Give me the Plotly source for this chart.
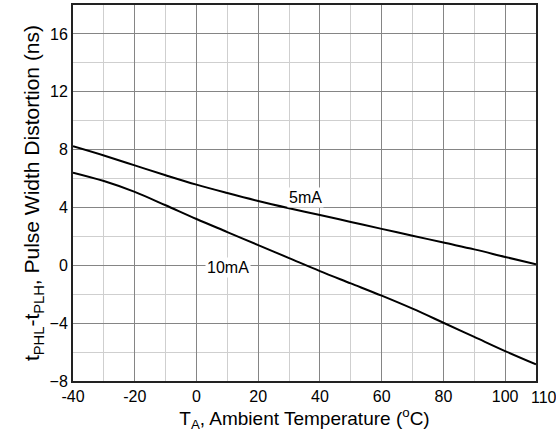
import plotly.graph_objects as go

temps = [-40, -30, -20, -10, 0, 10, 20, 30, 40, 50, 60, 70, 80, 90, 100, 110]
pwd_5mA = [8.23, 7.59, 6.91, 6.23, 5.58, 5.0, 4.45, 3.95, 3.48, 3.0, 2.52, 2.05, 1.57, 1.1, 0.58, 0.07]
pwd_10mA = [6.41, 5.83, 5.08, 4.15, 3.2, 2.3, 1.4, 0.5, -0.4, -1.25, -2.1, -3.0, -3.97, -4.95, -5.93, -6.85]

x_ticks = [-40, -20, 0, 20, 40, 60, 80, 100, 110]
x_ticktext = ["-40", "-20", "0", "20", "40", "60", "80", "100", "110"]
x_minor = [-30, -10, 10, 30, 50, 70, 90]
y_ticks = [-8, -4, 0, 4, 8, 12, 16]
y_minor = [-6, -2, 2, 6, 10, 14, 18]

labels = [("5mA", 35.2, 4.7), ("10mA", 10.2, -0.15)]

fnt = "Liberation Sans, Arial, sans-serif"

fig = go.Figure()
fig.add_trace(go.Scatter(x=temps, y=pwd_5mA, mode="lines", line_shape="spline",
                         line=dict(color="black", width=2), showlegend=False))
fig.add_trace(go.Scatter(x=temps, y=pwd_10mA, mode="lines", line_shape="spline",
                         line=dict(color="black", width=2), showlegend=False))

for txt, lx, ly in labels:
    fig.add_annotation(x=lx, y=ly, text=txt, showarrow=False,
                       font=dict(family=fnt, size=16, color="black"),
                       bgcolor="white", borderpad=1)

# last tick label sits just right of the axis end, as in the reference
shown_text = x_ticktext[:-1] + [""]
fig.add_annotation(x=x_ticks[-1], y=0, xref="x", yref="paper", text=x_ticktext[-1],
                   showarrow=False, xanchor="center", yanchor="top", xshift=8, yshift=-6,
                   font=dict(family=fnt, size=16, color="black"))

fig.update_xaxes(range=[-40, 110], tickmode="array", tickvals=x_ticks,
                 ticktext=shown_text, automargin=False,
                 showgrid=True, gridcolor="#858585", gridwidth=1,
                 minor=dict(tickmode="array", tickvals=x_minor, showgrid=True,
                            gridcolor="#cfcfcf", gridwidth=1),
                 showline=True, linecolor="#222", linewidth=2, mirror=True,
                 zeroline=False, ticks="", ticklen=0,
                 tickfont=dict(family=fnt, size=16, color="black"),
                 title=dict(text="T<sub>A</sub>, Ambient Temperature (<sup>o</sup>C)",
                            font=dict(family=fnt, size=19, color="black"), standoff=2))
fig.update_yaxes(range=[-8, 18], tickmode="array", tickvals=y_ticks,
                 automargin=False,
                 showgrid=True, gridcolor="#858585", gridwidth=1,
                 minor=dict(tickmode="array", tickvals=y_minor, showgrid=True,
                            gridcolor="#cfcfcf", gridwidth=1),
                 showline=True, linecolor="#222", linewidth=2, mirror=True,
                 zeroline=False, ticks="", ticklen=0,
                 tickfont=dict(family=fnt, size=16, color="black"),
                 title=dict(text="t<sub>PHL</sub>-t<sub>PLH</sub>, Pulse Width Distortion (ns)",
                            font=dict(family=fnt, size=21, color="black"), standoff=4))

fig.update_layout(width=556, height=439, margin=dict(l=73, r=20, t=5, b=58),
                  plot_bgcolor="white", paper_bgcolor="white")

fig.write_html("out.html", config={"displayModeBar": False},
               post_script="document.body.style.margin='0';document.body.style.overflow='hidden';")
